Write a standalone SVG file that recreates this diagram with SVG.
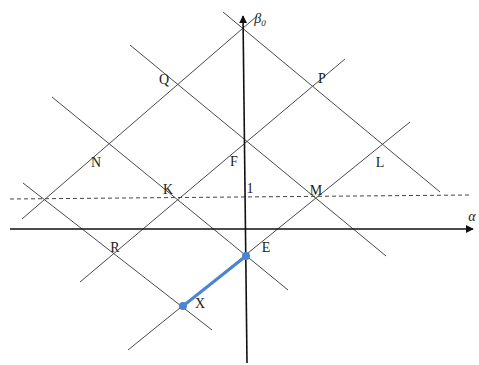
<svg xmlns="http://www.w3.org/2000/svg" width="479" height="365" viewBox="0 0 479 365">
<style>
.grid{stroke:#4a4a4a;stroke-width:1;fill:none}
.axis{stroke:#111;stroke-width:1.6;fill:none}
.dash{stroke:#444;stroke-width:1;stroke-dasharray:4 3;fill:none}
.lbl{font-family:"Liberation Serif","Times New Roman",serif;font-size:14px;fill:#222;text-anchor:middle}
.it{font-style:italic}
.seg{stroke:#4a84d4;stroke-width:3;fill:none;stroke-linecap:round}
.dot{fill:#4a84d4}
</style>
<defs>
<marker id="arr" viewBox="0 0 10 10" refX="9" refY="5" markerWidth="8" markerHeight="8" markerUnits="userSpaceOnUse" orient="auto">
<path d="M0,0 L10,5 L0,10 Z" fill="#111"/>
</marker>
</defs>
<rect width="479" height="365" fill="#fff"/>
<g id="connectors">
<line class="dash" x1="10" y1="199" x2="470" y2="195"/>
<line class="grid" x1="22" y1="219" x2="257" y2="16"/>
<line class="grid" x1="80" y1="282" x2="345" y2="59"/>
<line class="grid" x1="128" y1="350" x2="410" y2="122"/>
<line class="grid" x1="223" y1="12" x2="440" y2="192"/>
<line class="grid" x1="130" y1="45" x2="386" y2="256"/>
<line class="grid" x1="52" y1="97" x2="288" y2="290"/>
<line class="grid" x1="23" y1="183" x2="212" y2="330"/>
<line class="axis" x1="10" y1="229" x2="473" y2="229" marker-end="url(#arr)"/>
<line class="axis" x1="247" y1="363" x2="243" y2="16" marker-end="url(#arr)"/>
<line class="seg" x1="183" y1="306" x2="246" y2="256"/>
</g>
<g id="node-X"><circle class="dot" cx="183" cy="306" r="4"/><text class="lbl" x="200" y="308">X</text></g>
<g id="node-E"><circle class="dot" cx="246" cy="256" r="4"/><text class="lbl" x="266" y="252">E</text></g>
<g id="node-Q"><text class="lbl" x="164" y="84">Q</text></g>
<g id="node-P"><text class="lbl" x="322" y="83">P</text></g>
<g id="node-N"><text class="lbl" x="96" y="167">N</text></g>
<g id="node-F"><text class="lbl" x="234" y="166">F</text></g>
<g id="node-L"><text class="lbl" x="380" y="167">L</text></g>
<g id="node-K"><text class="lbl" x="168" y="194">K</text></g>
<g id="node-M"><text class="lbl" x="316" y="195">M</text></g>
<g id="node-R"><text class="lbl" x="115" y="252">R</text></g>
<g id="node-1"><text class="lbl" x="250" y="193">1</text></g>
<g id="label-beta"><text class="lbl it" x="260" y="23">β<tspan font-size="9" dy="3">0</tspan></text></g>
<g id="label-alpha"><text class="lbl it" x="472" y="221">α</text></g>
</svg>
